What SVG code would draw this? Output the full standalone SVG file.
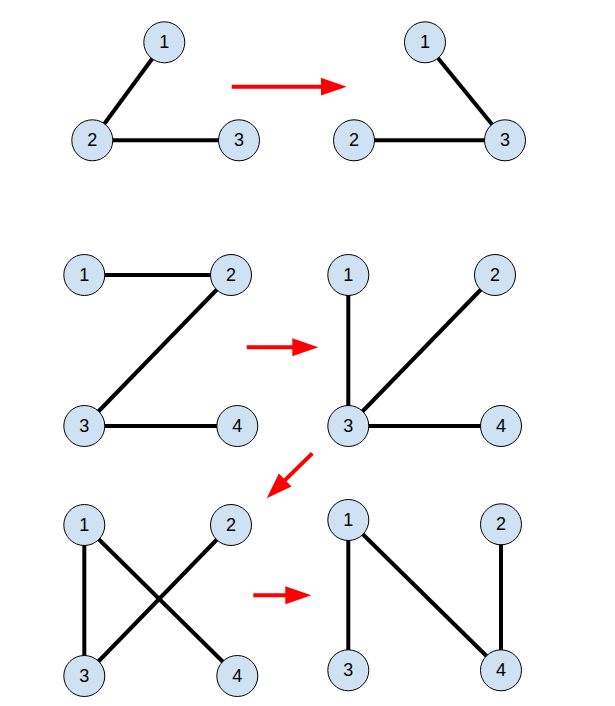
<svg xmlns="http://www.w3.org/2000/svg" width="615" height="706" viewBox="0 0 615 706">
<style>
.node circle { fill: #cfe2f3; stroke: #000; stroke-width: 1; }
.node text { font-family: "Liberation Sans", Arial, sans-serif; font-size: 18px; fill: #000; text-anchor: middle; dominant-baseline: central; }
.edge { stroke: #000; stroke-width: 4; fill: none; }
.arrow { stroke: #ff0000; stroke-width: 4; fill: none; marker-end: url(#ah); }
</style>
<defs>
<marker id="ah" markerUnits="userSpaceOnUse" markerWidth="28" markerHeight="20" viewBox="0 0 28 20" refX="1" refY="10" orient="auto">
<path d="M0,1 L26,10 L0,19 Z" fill="#ff0000"/>
</marker>
</defs>
<rect width="615" height="706" fill="#fff"/>
<g id="connectors">
<line class="edge" x1="164.3" y1="42.3" x2="92.3" y2="140.3"/>
<line class="edge" x1="92.3" y1="140.3" x2="239" y2="140.3"/>
<line class="edge" x1="425" y1="42.3" x2="505" y2="140.3"/>
<line class="edge" x1="354" y1="140.3" x2="505" y2="140.3"/>
<line class="edge" x1="84.3" y1="275" x2="231" y2="275"/>
<line class="edge" x1="231" y1="275" x2="84.3" y2="426"/>
<line class="edge" x1="84.3" y1="426" x2="237.3" y2="426"/>
<line class="edge" x1="348.3" y1="275" x2="348.3" y2="426"/>
<line class="edge" x1="495" y1="275" x2="348.3" y2="426"/>
<line class="edge" x1="348.3" y1="426" x2="501" y2="426"/>
<line class="edge" x1="84.3" y1="525" x2="84.3" y2="676"/>
<line class="edge" x1="84.3" y1="525" x2="237.3" y2="676"/>
<line class="edge" x1="231" y1="525" x2="84.3" y2="676"/>
<line class="edge" x1="348.3" y1="520" x2="348.3" y2="670.3"/>
<line class="edge" x1="348.3" y1="520" x2="501" y2="670.3"/>
<line class="edge" x1="501" y1="524.3" x2="501" y2="670.3"/>
<line class="arrow" x1="231.7" y1="86.7" x2="321.7" y2="86.7"/>
<line class="arrow" x1="246.7" y1="347.3" x2="293.3" y2="347.3"/>
<line class="arrow" x1="312.3" y1="453.3" x2="284.5" y2="480.7"/>
<line class="arrow" x1="253.3" y1="595.3" x2="286.3" y2="595.3"/>
</g>
<g id="a1" class="node"><circle cx="164.3" cy="42.3" r="20.5"/><text x="164.3" y="42.3">1</text></g>
<g id="a2" class="node"><circle cx="92.3" cy="140.3" r="20.5"/><text x="92.3" y="140.3">2</text></g>
<g id="a3" class="node"><circle cx="239" cy="140.3" r="20.5"/><text x="239" y="140.3">3</text></g>
<g id="b1" class="node"><circle cx="425" cy="42.3" r="20.5"/><text x="425" y="42.3">1</text></g>
<g id="b2" class="node"><circle cx="354" cy="140.3" r="20.5"/><text x="354" y="140.3">2</text></g>
<g id="b3" class="node"><circle cx="505" cy="140.3" r="20.5"/><text x="505" y="140.3">3</text></g>
<g id="c1" class="node"><circle cx="84.3" cy="275" r="20.5"/><text x="84.3" y="275">1</text></g>
<g id="c2" class="node"><circle cx="231" cy="275" r="20.5"/><text x="231" y="275">2</text></g>
<g id="c3" class="node"><circle cx="84.3" cy="426" r="20.5"/><text x="84.3" y="426">3</text></g>
<g id="c4" class="node"><circle cx="237.3" cy="426" r="20.5"/><text x="237.3" y="426">4</text></g>
<g id="d1" class="node"><circle cx="348.3" cy="275" r="20.5"/><text x="348.3" y="275">1</text></g>
<g id="d2" class="node"><circle cx="495" cy="275" r="20.5"/><text x="495" y="275">2</text></g>
<g id="d3" class="node"><circle cx="348.3" cy="426" r="20.5"/><text x="348.3" y="426">3</text></g>
<g id="d4" class="node"><circle cx="501" cy="426" r="20.5"/><text x="501" y="426">4</text></g>
<g id="e1" class="node"><circle cx="84.3" cy="525" r="20.5"/><text x="84.3" y="525">1</text></g>
<g id="e2" class="node"><circle cx="231" cy="525" r="20.5"/><text x="231" y="525">2</text></g>
<g id="e3" class="node"><circle cx="84.3" cy="676" r="20.5"/><text x="84.3" y="676">3</text></g>
<g id="e4" class="node"><circle cx="237.3" cy="676" r="20.5"/><text x="237.3" y="676">4</text></g>
<g id="f1" class="node"><circle cx="348.3" cy="520" r="20.5"/><text x="348.3" y="520">1</text></g>
<g id="f2" class="node"><circle cx="501" cy="524.3" r="20.5"/><text x="501" y="524.3">2</text></g>
<g id="f3" class="node"><circle cx="348.3" cy="670.3" r="20.5"/><text x="348.3" y="670.3">3</text></g>
<g id="f4" class="node"><circle cx="501" cy="670.3" r="20.5"/><text x="501" y="670.3">4</text></g>
</svg>
